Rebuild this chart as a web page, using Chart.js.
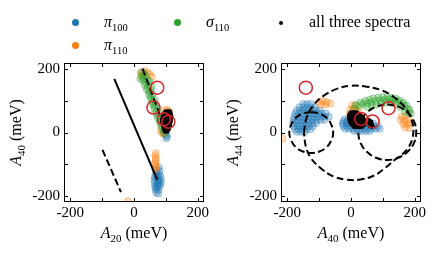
<!DOCTYPE html>
<html>
<head>
<meta charset="utf-8">
<script src="https://cdn.jsdelivr.net/npm/chart.js@4/dist/chart.umd.min.js"></script>
<style>
  body { margin: 0; background: #fff; font-family: "Liberation Serif", "Times New Roman", serif; }
  #page { position: relative; width: 436px; height: 253px; overflow: hidden; }
  .plot { position: absolute; top: 0; }
  .dot { position: absolute; border-radius: 50%; }
  .lab { position: absolute; font-size: 16px; line-height: 16px; white-space: nowrap; color: #000; }
  .lab sub { font-style: normal; font-size: 10.5px; vertical-align: -4px; line-height: 0; }
</style>
</head>
<body>
<div id="page">
  <canvas id="left" class="plot" width="218" height="253" style="left:0"></canvas>
  <canvas id="right" class="plot" width="218" height="253" style="left:217px"></canvas>

  <div class="dot" style="left:72px;top:19px;width:7px;height:7px;background:#1f77b4"></div>
  <div class="lab" style="left:104px;top:14px"><i>π</i><sub>100</sub></div>
  <div class="dot" style="left:72px;top:42px;width:7px;height:7px;background:#ff7f0e"></div>
  <div class="lab" style="left:104px;top:37px"><i>π</i><sub>110</sub></div>
  <div class="dot" style="left:174px;top:19px;width:7px;height:7px;background:#2ca02c"></div>
  <div class="lab" style="left:206px;top:14px"><i>σ</i><sub>110</sub></div>
  <div class="dot" style="left:279px;top:21px;width:4px;height:4px;background:#000"></div>
  <div class="lab" style="left:309px;top:14px">all three spectra</div>
</div>
<script>
const serif = '"Liberation Serif", "Times New Roman", serif';
const axisTicks = [-200, -100, 0, 100, 200];
const tickLabels = [-200, 0, 200];

// left panel: A20 vs A40
const leftPi100 = [
  [100,-8],[102,-18],[98,-2],[104,-12],[110,62],
  [78,-110],[72,-120],[80,-122],[68,-130],[78,-132],[72,-135],[66,-140],[76,-142],[84,-140],
  [72,-145],[64,-150],[74,-152],[84,-150],[78,-155],[66,-160],[76,-162],[84,-160],[74,-165],
  [66,-170],[75,-172],[82,-170],[70,-175],[68,-180],[76,-182],[70,-190],[76,-193]
];
const leftPi110 = [
  [24,190],[32,194],[42,190],[50,184],[56,176],[22,180],[30,184],
  [104,72],[110,66],[98,70],[84,8],[88,0],[92,-4],
  [68,-66],[67,-74],[69,-82],[68,-90],[66,-97],[68,-104],[69,-111],[67,-117],
  [-20,-218]
];
const leftSigma110 = [
  [22,190],[32,188],[26,178],[38,180],[31,172],[20,170],
  [28,165],[42,166],[37,158],[48,162],[34,150],[47,152],[42,144],[55,146],
  [40,136],[53,134],[48,128],[47,120],[58,121],[53,113],[53,105],[64,104],[58,98],
  [58,90],[69,91],[64,84],[64,75],[75,76],[70,68],[70,60],[81,60],[76,52],
  [76,45],[86,44],[82,37],[82,30],[91,29],[87,22],[88,15],[96,12],[93,6],[95,-2]
];
const leftAll = [
  [100,65],[106,65],[112,65],
  [96,58],[102,58],[108,58],[114,58],
  [92,50],[98,50],[104,50],[110,50],[116,50],
  [90,42],[96,42],[102,42],[108,42],[114,42],
  [90,35],[96,35],[102,35],[108,35],[114,35],
  [92,28],[98,28],[104,28],[110,28],
  [94,20],[100,20],[106,20],[112,20],
  [96,12],[102,12],[108,12],
  [98,5],[104,5]
];
const leftSolid = [[-62,170],[73,-149]];
const leftDashUpper = [[27,202],[103,-2]];
const leftDashLower = [[-99,-55],[-41,-189]];
const leftRed = [[73,142],[61,79],[94,42],[108,34]];

// right panel: A40 vs A44
const rightPi100 = [
  [-150,90],[-138,90],[-126,90],
  [-162,80],[-150,80],[-138,80],[-126,80],[-114,80],
  [-170,70],[-158,70],[-146,70],[-134,70],[-122,70],[-110,70],[-98,70],
  [-175,60],[-163,60],[-151,60],[-139,60],[-127,60],[-115,60],[-103,60],[-91,60],[-79,60],
  [-178,50],[-166,50],[-154,50],[-142,50],[-130,50],[-118,50],[-106,50],[-94,50],[-82,50],[-70,50],
  [-180,40],[-168,40],[-156,40],[-144,40],[-132,40],[-120,40],[-108,40],[-96,40],[-84,40],
  [-182,30],[-170,30],[-158,30],[-146,30],[-134,30],[-122,30],[-110,30],
  [-180,20],[-168,20],[-156,20],[-144,20],[-132,20],[-120,20],
  [-176,10],[-164,10],[-152,10],[-140,10],[-128,10],
  [-170,2],[-158,2],[-146,2],
  [-20,42],[-8,42],[-24,35],[-12,35],[0,35],[12,35],
  [-26,28],[-14,28],[-2,28],[10,28],[22,28],[34,28],[46,28],[58,28],[70,28],
  [-24,20],[-12,20],[0,20],[12,20],[24,20],[36,20],[48,20],[60,20],[72,20],[84,20],
  [-18,12],[-6,12],[6,12],[18,12],[30,12],[42,12],[54,12],[66,12],[78,12],[90,12],
  [10,5],[22,5],[34,5],[46,5],[58,5]
];
const rightPi110 = [
  [-100,97],[-88,100],[-76,96],[-64,92],[-94,88],[-80,88],
  [4,86],[14,84],[-2,72],[8,76],[18,72],[-4,60],[6,62],[24,64],[-2,48],[28,50],
  [160,50],[172,52],[156,40],[168,38],[180,40],[164,28],[176,26],[186,30],[170,16],[182,14],
  [-215,-20]
];
const rightSigma110 = [
  [10,75],[15,88],[25,84],[30,95],[38,90],[45,100],[52,92],[58,104],[64,96],[70,108],
  [78,100],[85,110],[92,102],[100,112],[106,104],[114,112],[120,104],[128,110],[134,102],
  [140,108],[146,98],[152,102],[158,92],[164,94],[168,84],[174,86],[178,74],[184,72],
  [182,62],[188,60],[50,82],[65,85],[80,88],[95,92],[110,94],[125,94],[140,90],[155,80],[170,66]
];
const rightAll = [
  [0,62],[6,62],[12,62],[18,62],
  [-4,56],[2,56],[8,56],[14,56],[20,56],[26,56],
  [-4,50],[2,50],[8,50],[14,50],[20,50],[26,50],[32,50],
  [-4,44],[2,44],[8,44],[14,44],[20,44],[26,44],[32,44],[38,44],
  [-2,38],[4,38],[10,38],[16,38],[22,38],[28,38],[34,38],[40,38],
  [0,32],[6,32],[12,32],[18,32],[24,32],[30,32],[36,32],[42,32],
  [4,26],[10,26],[16,26],[22,26],[28,26],[34,26],[40,26],
  [10,20],[16,20],[22,20],[28,20],[34,20],
  [56,38],[62,34],[58,30],[64,26],[60,22],[66,20]
];
const rightBigCurve = [
  [-148,0],[-140,45],[-118,86],[-85,117],[-45,138],[0,148],[50,145],[95,134],[132,114],
  [163,87],[184,56],[195,20],[194,-15],[180,-48],[160,-70],[137,-87],[110,-110],[75,-135],
  [30,-149],[-15,-149],[-55,-139],[-95,-113],[-126,-81],[-142,-44],[-148,0]
];
const rightLeftCurve = [
  [-125,65],[-99,60],[-76,46],[-62,25],[-56,0],[-62,-25],[-76,-46],[-99,-60],[-125,-65],
  [-151,-60],[-174,-46],[-188,-25],[-194,0],[-188,25],[-174,46],[-151,60],[-125,65]
];
const rightRightCurve = [
  [114,89],[149,82],[178,63],[198,35],[205,1],[198,-33],[178,-61],[149,-80],[114,-87],
  [79,-80],[50,-61],[30,-33],[23,1],[30,35],[50,63],[79,82],[114,89]
];
const rightRed = [[-142,142],[32,43],[68,35],[118,77]];

const toXY = arr => arr.map(([x, y]) => ({x, y}));

function cloud(points, rgb, order) {
  return {
    data: toXY(points), order,
    pointRadius: 3.5, pointBorderWidth: 0.8,
    backgroundColor: `rgba(${rgb},0.28)`, borderColor: `rgba(${rgb},0.45)`
  };
}
function blackDots(points) {
  return { data: toXY(points), order: 2, pointRadius: 2.6, pointBorderWidth: 0,
           backgroundColor: '#000', borderColor: '#000' };
}
function line(points, dash, tension) {
  return { data: toXY(points), order: 1, showLine: true, pointRadius: 0,
           borderColor: '#000', borderWidth: 2, borderDash: dash || [], tension: tension || 0 };
}
function redRings(points) {
  return { data: toXY(points), order: 0, pointRadius: 6.5, pointBorderWidth: 1.5,
           backgroundColor: 'rgba(0,0,0,0)', borderColor: '#d62728' };
}

function drawTitle(ctx, cx, cy, sub) {
  const big = '16px ' + serif;
  const bigI = 'italic 16px ' + serif;
  const small = '11px ' + serif;
  ctx.font = bigI; const wA = ctx.measureText('A').width;
  ctx.font = small; const wS = ctx.measureText(sub).width;
  ctx.font = big; const wU = ctx.measureText(' (meV)').width;
  let x = cx - (wA + wS + wU) / 2;
  ctx.textBaseline = 'alphabetic'; ctx.textAlign = 'left'; ctx.fillStyle = '#000';
  ctx.font = bigI; ctx.fillText('A', x, cy); x += wA;
  ctx.font = small; ctx.fillText(sub, x, cy + 4); x += wS;
  ctx.font = big; ctx.fillText(' (meV)', x, cy);
}

const framePlugin = {
  id: 'frame',
  afterDraw(chart, args, opts) {
    const {ctx, chartArea: a, scales: {x, y}} = chart;
    ctx.save();
    ctx.strokeStyle = '#000';
    ctx.lineWidth = 1;
    ctx.strokeRect(a.left + 0.5, a.top + 0.5, a.right - a.left - 1, a.bottom - a.top - 1);
    ctx.beginPath();
    for (const t of axisTicks) {
      const px = Math.round(x.getPixelForValue(t)) + 0.5;
      ctx.moveTo(px, a.bottom); ctx.lineTo(px, a.bottom - 4);
      ctx.moveTo(px, a.top); ctx.lineTo(px, a.top + 4);
      const py = Math.round(y.getPixelForValue(t)) + 0.5;
      ctx.moveTo(a.left, py); ctx.lineTo(a.left + 4, py);
      ctx.moveTo(a.right, py); ctx.lineTo(a.right - 4, py);
    }
    ctx.stroke();
    drawTitle(ctx, (a.left + a.right) / 2, 238, opts.xSub);
    ctx.translate(21, (a.top + a.bottom) / 2);
    ctx.rotate(-Math.PI / 2);
    drawTitle(ctx, 0, 0, opts.ySub);
    ctx.restore();
  }
};

function axis(isX) {
  return {
    type: 'linear', min: -220, max: 220,
    grid: { display: false, drawTicks: false },
    border: { display: false },
    afterBuildTicks: s => { s.ticks = tickLabels.map(v => ({value: v})); },
    afterFit: s => { if (isX) s.height = 51; else s.width = 64; },
    ticks: {
      color: '#000', padding: isX ? 2 : 4, maxRotation: 0, autoSkip: false,
      font: { family: serif, size: 15 },
      callback: v => String(v)
    }
  };
}

function makeChart(id, datasets, xSub, ySub) {
  return new Chart(document.getElementById(id), {
    type: 'scatter',
    data: { datasets },
    options: {
      responsive: false, animation: false,
      layout: { padding: { top: 63, right: 14, left: 0, bottom: 0 } },
      plugins: { legend: { display: false }, tooltip: { enabled: false }, frame: { xSub, ySub } },
      scales: { x: axis(true), y: axis(false) }
    },
    plugins: [framePlugin]
  });
}

makeChart('left', [
  redRings(leftRed),
  line(leftSolid),
  line(leftDashUpper, [7, 3.5]),
  line(leftDashLower, [7, 3.5]),
  blackDots(leftAll),
  cloud(leftSigma110, '44,160,44', 3),
  cloud(leftPi110, '255,127,14', 4),
  cloud(leftPi100, '31,119,180', 5)
], '20', '40');

makeChart('right', [
  redRings(rightRed),
  line(rightBigCurve, [7, 3.5], 0.4),
  line(rightLeftCurve, [7, 3.5], 0.4),
  line(rightRightCurve, [7, 3.5], 0.4),
  blackDots(rightAll),
  cloud(rightSigma110, '44,160,44', 3),
  cloud(rightPi110, '255,127,14', 4),
  cloud(rightPi100, '31,119,180', 5)
], '40', '44');
</script>
</body>
</html>
